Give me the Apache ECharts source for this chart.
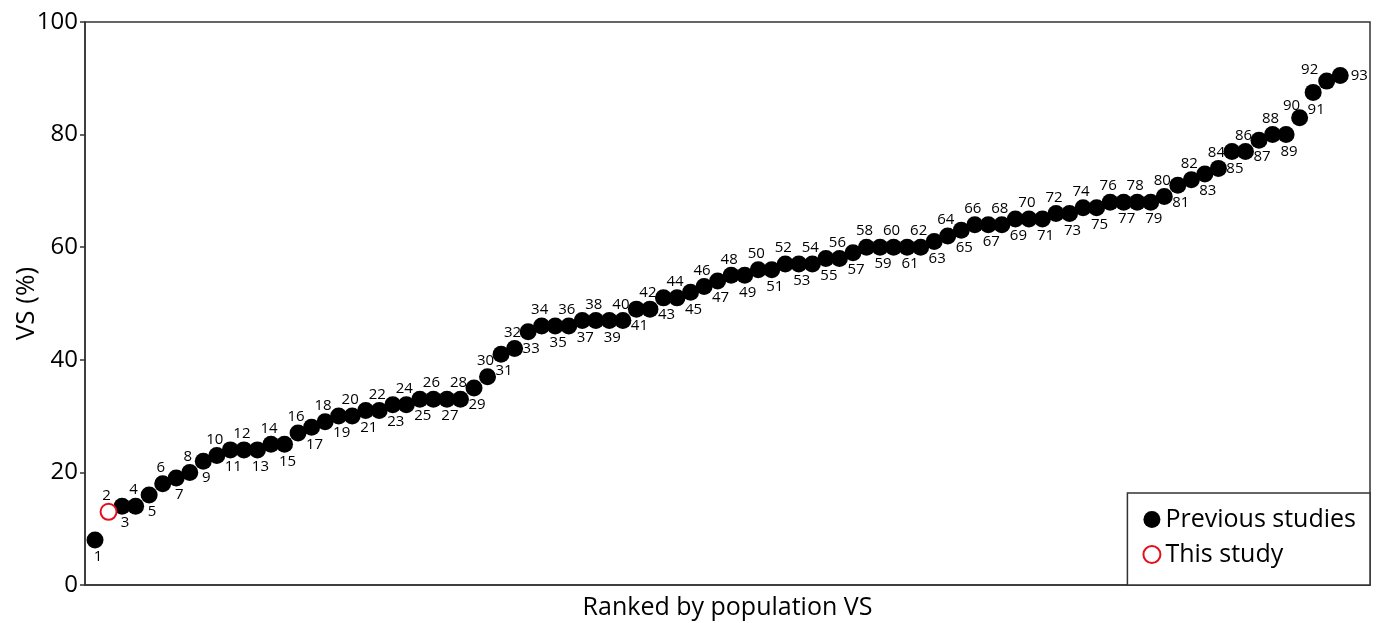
<!DOCTYPE html>
<html>
<head>
<meta charset="utf-8">
<title>VS ranked by population</title>
<script src="https://cdn.jsdelivr.net/npm/echarts@6/dist/echarts.min.js"></script>
<style>
  html, body { margin: 0; padding: 0; background: #ffffff; }
  #chart { width: 1380px; height: 623px; }
</style>
</head>
<body>
<div id="chart"></div>
<script>
// VS (%) of each population, in rank order (rank = position + 1)
const vsValues = [
  8, 13, 14, 14, 16, 18, 19, 20, 22, 23,
  24, 24, 24, 25, 25, 27, 28, 29, 30, 30,
  31, 31, 32, 32, 33, 33, 33, 33, 35, 37,
  41, 42, 45, 46, 46, 46, 47, 47, 47, 47,
  49, 49, 51, 51, 52, 53, 54, 55, 55, 56,
  56, 57, 57, 57, 58, 58, 59, 60, 60, 60,
  60, 60, 61, 62, 63, 64, 64, 64, 65, 65,
  65, 66, 66, 67, 67, 68, 68, 68, 68, 69,
  71, 72, 73, 74, 77, 77, 79, 80, 80, 83,
  87.5, 89.5, 90.5
];
// rank of the population reported here
const thisStudyRank = 2;
const seriesNames = ['Previous studies', 'This study'];
const yTickValues = [0, 20, 40, 60, 80, 100];
const xAxisTitle = 'Ranked by population VS';
const yAxisTitle = 'VS (%)';

const FONT = '"Open Sans", "DejaVu Sans", sans-serif';
const ranks = vsValues.map((_, i) => i + 1);

// number label beside each marker: even ranks above, odd ranks below
function labelFor(rank) {
  const lbl = { show: true, formatter: String(rank) };
  if (rank === ranks.length) {
    lbl.position = 'right';
    lbl.distance = 2;
  } else if (rank % 2 === 0) {
    lbl.position = 'top';
    lbl.distance = 0;
    lbl.offset = [-2, 0];
  } else {
    lbl.position = 'bottom';
    lbl.distance = 1;
    lbl.offset = [3, 0];
  }
  if (rank === 92) lbl.offset = [-17, 5];
  if (rank === 90) lbl.offset = [-8, 4];
  return lbl;
}

function point(rank) {
  return { value: [rank, vsValues[rank - 1]], label: labelFor(rank) };
}

const previous = ranks.filter(r => r !== thisStudyRank).map(point);
const current = [point(thisStudyRank)];

const chart = echarts.init(document.getElementById('chart'), null, { renderer: 'canvas' });

chart.setOption({
  animation: false,
  backgroundColor: '#ffffff',
  textStyle: { fontFamily: FONT, color: '#000' },
  grid: {
    left: 85, right: 10, top: 22, bottom: 38,
    show: true, borderColor: '#333', borderWidth: 1.5,
    backgroundColor: 'transparent',
    outerBoundsMode: 'none'
  },
  xAxis: {
    type: 'value',
    min: 0.26, max: 95.2,
    name: xAxisTitle,
    nameLocation: 'middle',
    nameGap: 10,
    nameMoveOverlap: false,
    nameTextStyle: { fontFamily: FONT, fontSize: 25, color: '#000', verticalAlign: 'top' },
    axisLine: { show: true, lineStyle: { color: '#333', width: 1.5 } },
    axisTick: { show: false },
    axisLabel: { show: false },
    splitLine: { show: false }
  },
  yAxis: {
    type: 'value',
    min: yTickValues[0], max: yTickValues[yTickValues.length - 1],
    interval: yTickValues[1] - yTickValues[0],
    name: yAxisTitle,
    nameLocation: 'middle',
    nameGap: 45,
    nameRotate: 90,
    nameMoveOverlap: false,
    nameTextStyle: { fontFamily: FONT, fontSize: 26, color: '#000' },
    axisLine: { show: true, lineStyle: { color: '#333', width: 1.5 } },
    axisTick: { show: true, inside: false, length: 5, lineStyle: { color: '#333', width: 1.5 } },
    axisLabel: { fontFamily: FONT, fontSize: 24, color: '#000', margin: 7 },
    splitLine: { show: false }
  },
  legend: {
    orient: 'vertical',
    right: 10, bottom: 38,
    backgroundColor: '#ffffff',
    borderColor: '#333', borderWidth: 1.5,
    borderRadius: 0,
    padding: [14, 14, 18, 15],
    itemWidth: 17, itemHeight: 17,
    itemGap: 10,
    textStyle: { fontFamily: FONT, fontSize: 25, color: '#000' },
    data: [
      { name: seriesNames[0], icon: 'circle' },
      { name: seriesNames[1], icon: 'emptyCircle' }
    ]
  },
  series: [
    {
      name: seriesNames[0],
      type: 'scatter',
      symbol: 'circle',
      symbolSize: 17,
      itemStyle: { color: '#000', opacity: 1 },
      label: { fontFamily: FONT, fontSize: 15, color: '#000' },
      emphasis: { disabled: true },
      data: previous,
      z: 2
    },
    {
      name: seriesNames[1],
      type: 'scatter',
      symbol: 'emptyCircle',
      symbolSize: 16,
      itemStyle: { color: '#e3101b', borderColor: '#e3101b', borderWidth: 2, opacity: 1 },
      label: { fontFamily: FONT, fontSize: 15, color: '#000' },
      emphasis: { disabled: true },
      data: current,
      z: 3
    }
  ]
});
</script>
</body>
</html>
